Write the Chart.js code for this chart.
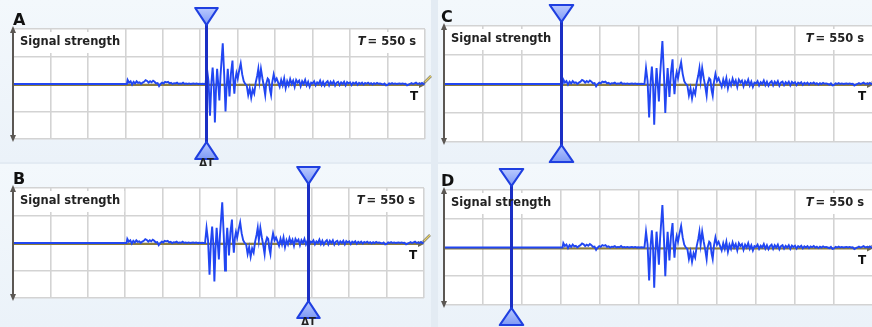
<!DOCTYPE html>
<html><head><meta charset="utf-8">
<script src="https://cdn.jsdelivr.net/npm/chart.js@4/dist/chart.umd.min.js"></script>
<style>
html,body{margin:0;padding:0;width:872px;height:327px;overflow:hidden;background:#e3ebf3;}
.bg{position:absolute;}
canvas{position:absolute;left:0;top:0;}
</style></head><body>
<div class="bg" style="left:0;top:0;width:431px;height:162px;background:linear-gradient(180deg,#f3f8fc,#ebf2f9)"></div>
<div class="bg" style="left:0;top:164px;width:431px;height:163px;background:linear-gradient(180deg,#f3f8fc,#ebf2f9)"></div>
<div class="bg" style="left:438px;top:0;width:434px;height:162px;background:linear-gradient(180deg,#f3f8fc,#ebf2f9)"></div>
<div class="bg" style="left:438px;top:164px;width:434px;height:163px;background:linear-gradient(180deg,#f3f8fc,#ebf2f9)"></div>
<canvas id="c0" width="880" height="327"></canvas>
<canvas id="c1" width="880" height="327"></canvas>
<canvas id="c2" width="880" height="327"></canvas>
<canvas id="c3" width="880" height="327"></canvas>
<script>
// ---------- data ----------
const panelLetters = ['A', 'B', 'C', 'D'];
const cursorTimes = [258, 395, 150, 86];          // seconds
const xTicks = [0, 50, 100, 150, 200, 250, 300, 350, 400, 450, 500, 550];
const yTicks = [-2, -1, 0, 1, 2];
const yAxisTitle = 'Signal strength';
const periodSymbol = 'T';
const periodText = '= 550 s';
const timeAxisLabel = 'T';
const cursorLabel = 'ΔT';

const signalTime = [
  0, 150, 152, 153, 155, 157, 159, 161, 163, 165, 167, 169, 171, 173, 175, 177, 179, 181, 183, 185,
  187, 189, 191, 193, 195, 197, 199, 201, 203, 205, 207, 209, 211, 213, 215, 217, 219, 221, 223, 225,
  227, 229, 231, 233, 235, 237, 239, 241, 243, 245, 247, 249, 251, 253, 255, 257,
  259, 261, 263, 265, 266.5, 268, 269.5, 271, 272.5, 274, 275.5, 277, 280, 282, 283.7, 285, 286.7, 288,
  289, 291, 293, 294, 295.5, 297, 298.3, 300, 302, 304, 306, 308, 310, 312, 314, 316, 318, 320, 322,
  324, 326, 327.5, 329, 331, 333, 335, 336.7, 338, 340, 341.5, 343, 344.5, 346, 348, 350, 352, 354,
  356, 358, 360, 362, 364, 366, 368, 370, 372, 374, 376, 378, 380, 382, 384, 386, 388, 390, 392, 394,
  396, 398, 400, 402, 404, 406, 408, 410, 412, 414, 416, 418, 420, 422, 424, 426, 428, 430, 432, 434,
  436, 438, 440, 442, 444, 446, 448, 450, 452, 454, 456, 458, 460, 462, 464, 466, 468, 470, 472, 474,
  476, 478, 480, 482, 484, 486, 488, 490, 492, 494, 496, 498, 500, 502, 504, 506, 508, 510, 512, 514,
  516, 518, 520, 522, 524, 526, 528, 530, 532, 534, 536, 538, 540, 542, 544, 546, 548, 550
];
const signalValue = [
  0, 0, 0, 0.15, 0.05, 0.1, -0.02, 0.08, 0.02, 0.1, 0.04, 0.06, 0.0, 0.05, 0.08, 0.14, 0.11, 0.05, 0.1, 0.06,
  0.12, 0.08, 0.02, 0.03, -0.08, 0.0, 0.05, 0.02, 0.08, 0.06, 0.08, 0.02, 0.04, 0.0, 0.03, 0.02, 0.05, 0.0, 0.02, 0.01,
  0.05, 0.0, 0.02, 0.0, 0.02, 0.0, 0.01, 0.02, 0.0, 0.02, 0.0, 0.01, 0.0, 0.01, 0.0, 0.0,
  0.55, 0.1, -1.15, 0.1, 0.6, 0.0, -1.4, -0.2, 0.55, 0.0, -0.6, 0.3, 1.48, 0.3, -1.0, -0.2, 0.55, 0.0,
  -0.45, 0.4, 0.85, 0.2, -0.35, 0.2, 0.4, 0.2, 0.5, 0.75, 0.35, 0.1, 0.0, -0.05, -0.4, -0.15, -0.5, -0.2, -0.35,
  0.05, 0.3, 0.55, 0.1, 0.55, 0.2, -0.1, -0.4, 0.0, 0.2, 0.15, -0.2, -0.4, 0.05, 0.35, 0.1, 0.2, 0.05,
  -0.1, 0.15, -0.05, 0.2, -0.15, 0.1, -0.05, 0.18, 0.0, 0.12, -0.1, 0.15, 0.05, 0.12, -0.08, 0.1, 0.0, 0.15, -0.05, 0.08,
  -0.1, 0.05, 0.02, 0.1, -0.05, 0.06, 0.0, 0.12, -0.04, 0.08, -0.06, 0.05, 0.1, -0.05, 0.08, 0.0, 0.1, -0.06, 0.05, 0.08,
  -0.04, 0.06, 0.0, 0.08, -0.05, 0.07, 0.02, 0.06, -0.04, 0.05, 0.01, 0.06, -0.03, 0.04, 0.0, 0.05, -0.02, 0.04, 0.01, 0.05,
  0.0, 0.03, -0.02, 0.03, 0.0, 0.04, 0.01, 0.02, 0.0, -0.02, 0.02, -0.05, -0.03, 0.02, 0.0, 0.03, 0.0, 0.02, 0.0, 0.01,
  0.02, 0.0, 0.02, 0.0, 0.01, -0.05, -0.02, 0.0, 0.03, 0.0, 0.02, 0.05, 0.0, 0.02, 0.0, 0.04, 0.0, 0.02
];

// ---------- layout (pixel boxes of each plot area) ----------
const layoutBoxes = [
  {l: 13, t: 29, r: 425, b: 139},
  {l: 13, t: 188, r: 424, b: 298},
  {l: 444, t: 26, r: 873, b: 142},
  {l: 444, t: 190, r: 873, b: 305}
];
const CW = 880, CH = 327;
const FONT = '"DejaVu Sans", Verdana, sans-serif';

function tri(ctx, cx, tipY, baseY, half) {
  ctx.beginPath();
  ctx.moveTo(cx, tipY);
  ctx.lineTo(cx - half, baseY);
  ctx.lineTo(cx + half, baseY);
  ctx.closePath();
  const g = ctx.createLinearGradient(0, Math.min(tipY, baseY), 0, Math.max(tipY, baseY));
  g.addColorStop(0, '#b9c9ff');
  g.addColorStop(1, '#7f9af5');
  ctx.fillStyle = g;
  ctx.fill();
  ctx.lineWidth = 2.2;
  ctx.strokeStyle = '#1f3fe0';
  ctx.lineJoin = 'round';
  ctx.stroke();
}

const deco = {
  id: 'deco',
  beforeDraw(chart) {
    const {ctx, chartArea: a} = chart;
    ctx.save();
    ctx.fillStyle = '#ffffff';
    ctx.fillRect(a.left, a.top, a.right - a.left, a.bottom - a.top);
    ctx.restore();
  },
  beforeDatasetsDraw(chart) {
    const {ctx, chartArea: a, scales: {y}} = chart;
    ctx.save();
    ctx.fillStyle = '#ffffff';
    ctx.font = 'bold 11.5px ' + FONT;
    const w1 = ctx.measureText(yAxisTitle).width;
    ctx.fillRect(a.left + 3, a.top + 3, w1 + 8, 21);
    const w2 = ctx.measureText(periodSymbol + periodText).width + 3;
    ctx.fillRect(a.right - 13 - w2, a.top + 3, w2 + 8, 21);
    const y0 = y.getPixelForValue(0) + 1;
    ctx.strokeStyle = '#8c7d3c';
    ctx.lineWidth = 2;
    ctx.beginPath();
    ctx.moveTo(a.left, y0);
    ctx.lineTo(a.right - 3, y0);
    ctx.stroke();
    ctx.fillStyle = '#6e6a50';
    ctx.beginPath();
    ctx.moveTo(a.right, y0);
    ctx.lineTo(a.right - 6, y0 - 3);
    ctx.lineTo(a.right - 6, y0 + 3);
    ctx.closePath();
    ctx.fill();
    ctx.restore();
  },
  afterDatasetsDraw(chart, args, opts) {
    const {ctx, chartArea: a, scales: {x, y}} = chart;
    const cx = Math.round(x.getPixelForValue(opts.cursor)) + 0.5;
    const colW = x.getPixelForValue(50) - x.getPixelForValue(0);
    const half = colW * 0.3;
    ctx.save();
    const y0 = y.getPixelForValue(0);
    ctx.strokeStyle = '#777';
    ctx.lineWidth = 2.5;
    ctx.beginPath(); ctx.moveTo(a.right - 1, y0 - 1); ctx.lineTo(a.right + 6, y0 - 8); ctx.stroke();
    ctx.strokeStyle = '#e8d060';
    ctx.lineWidth = 1.2;
    ctx.beginPath(); ctx.moveTo(a.right, y0 - 2); ctx.lineTo(a.right + 6, y0 - 8); ctx.stroke();
    ctx.strokeStyle = '#1b2fc4';
    ctx.lineWidth = 3;
    ctx.beginPath();
    ctx.moveTo(cx, a.top - 6);
    ctx.lineTo(cx, a.bottom + 5);
    ctx.stroke();
    tri(ctx, cx, a.top - 4, a.top - 21, half);
    tri(ctx, cx, a.bottom + 3, a.bottom + 20, half);
    if (opts.showDelta) {
      ctx.fillStyle = '#222';
      ctx.font = 'bold 10px ' + FONT;
      ctx.textAlign = 'center';
      ctx.textBaseline = 'top';
      ctx.fillText(cursorLabel, cx, a.bottom + 19);
    }
    ctx.restore();
  },
  afterDraw(chart, args, opts) {
    const {ctx, chartArea: a, scales: {y}} = chart;
    ctx.save();
    ctx.strokeStyle = '#5b5753';
    ctx.fillStyle = '#5b5753';
    ctx.lineWidth = 2;
    const ax = a.left;
    ctx.beginPath(); ctx.moveTo(ax, a.top + 2); ctx.lineTo(ax, a.bottom - 2); ctx.stroke();
    ctx.beginPath(); ctx.moveTo(ax, a.top - 3); ctx.lineTo(ax - 3, a.top + 4); ctx.lineTo(ax + 3, a.top + 4); ctx.closePath(); ctx.fill();
    ctx.beginPath(); ctx.moveTo(ax, a.bottom + 3); ctx.lineTo(ax - 3, a.bottom - 4); ctx.lineTo(ax + 3, a.bottom - 4); ctx.closePath(); ctx.fill();
    ctx.fillStyle = '#111';
    ctx.font = 'bold 16px ' + FONT;
    ctx.textBaseline = 'alphabetic';
    ctx.textAlign = 'left';
    ctx.fillText(opts.letter, a.left + opts.letterDx, a.top - 4);
    ctx.font = 'bold 11.5px ' + FONT;
    ctx.fillStyle = '#222';
    ctx.textBaseline = 'middle';
    ctx.fillText(yAxisTitle, a.left + 7, a.top + 13);
    const wT = ctx.measureText(periodText).width;
    ctx.textAlign = 'right';
    ctx.fillText(periodText, a.right - 9, a.top + 13);
    ctx.font = 'bold italic 11.5px ' + FONT;
    ctx.fillText(periodSymbol, a.right - 9 - wT - 2, a.top + 13);
    ctx.font = 'bold 12px ' + FONT;
    ctx.textAlign = 'center';
    ctx.fillStyle = '#111';
    ctx.fillText(timeAxisLabel, a.right - 11, y.getPixelForValue(0) + 13);
    ctx.restore();
  }
};

panelLetters.forEach((letter, i) => {
  const box = layoutBoxes[i];
  new Chart(document.getElementById('c' + i), {
    type: 'line',
    data: {
      labels: signalTime,
      datasets: [{
        data: signalTime.map((t, k) => ({x: t, y: signalValue[k]})),
        borderColor: '#2146f2',
        borderWidth: 1.9,
        pointRadius: 0,
        tension: 0,
        fill: false
      }]
    },
    options: {
      responsive: false,
      animation: false,
      devicePixelRatio: 1,
      layout: {padding: {left: box.l, top: box.t, right: CW - box.r, bottom: CH - box.b}},
      plugins: {
        legend: {display: false},
        tooltip: {enabled: false},
        deco: {letter: letter, cursor: cursorTimes[i], showDelta: i < 2, letterDx: i < 2 ? 0 : -3}
      },
      scales: {
        x: {
          type: 'linear', min: xTicks[0], max: xTicks[xTicks.length - 1],
          afterBuildTicks: s => { s.ticks = xTicks.map(v => ({value: v})); },
          afterFit: s => { s.height = 0; },
          ticks: {display: false},
          grid: {color: '#d3d3d3', lineWidth: 1.6, drawTicks: false},
          border: {display: false}
        },
        y: {
          type: 'linear', min: yTicks[0], max: yTicks[yTicks.length - 1],
          afterBuildTicks: s => { s.ticks = yTicks.map(v => ({value: v})); },
          afterFit: s => { s.width = 0; },
          ticks: {display: false},
          grid: {color: '#d3d3d3', lineWidth: 1.6, drawTicks: false},
          border: {display: false}
        }
      }
    },
    plugins: [deco]
  });
});
</script>
</body></html>
